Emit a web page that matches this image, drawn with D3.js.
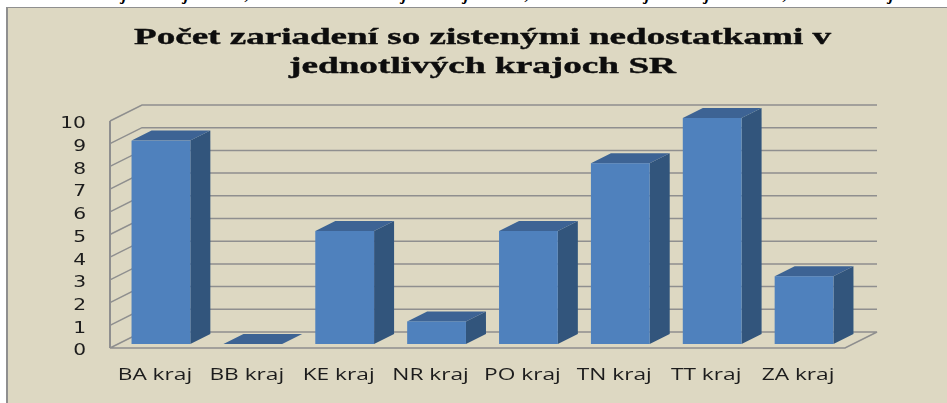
<!DOCTYPE html>
<html>
<head>
<meta charset="utf-8">
<script src="https://cdnjs.cloudflare.com/ajax/libs/d3/7.8.5/d3.min.js"></script>
<style>
    html, body { margin: 0; padding: 0; background: #fff; }
    svg { display: block; }
</style>
</head>
<body>
<svg id="chart" width="947" height="403"></svg>
<script>
const categories = ['BA kraj', 'BB kraj', 'KE kraj', 'NR kraj', 'PO kraj', 'TN kraj', 'TT kraj', 'ZA kraj'];
const values = [9, 0, 5, 1, 5, 8, 10, 3];
const yTicks = [0, 1, 2, 3, 4, 5, 6, 7, 8, 9, 10];
const titleLines = ['Počet zariadení so zistenými nedostatkami v', 'jednotlivých krajoch SR'];
// bottoms of the line of text cut off above the chart
const cutText = ['j', 'j', ',', 'j', 'j', ',', 'j', 'j', ',', 'j'];
const cutTextX = [122, 184, 245, 402, 464, 525, 645, 705, 783, 889];

const svg = d3.select('#chart');

// frame
svg.append('rect').attr('x', 7).attr('y', 7.5).attr('width', 945).attr('height', 400)
    .attr('fill', '#ddd8c2').attr('stroke', '#8f8f8f').attr('stroke-width', 1);
svg.append('line').attr('x1', 7).attr('x2', 7).attr('y1', 7).attr('y2', 403)
    .attr('stroke', '#8f8f8f').attr('stroke-width', 2);

const soft = svg.append('defs').append('filter').attr('id', 'soft');
soft.append('feGaussianBlur').attr('stdDeviation', 0.4);

svg.selectAll('.cut')
    .data(cutText)
    .enter()
    .append('text')
    .attr('class', 'cut')
    .attr('x', (d, i) => cutTextX[i])
    .attr('y', -0.5)
    .attr('font-family', 'Liberation Serif')
    .attr('font-style', 'italic')
    .attr('font-weight', 'bold')
    .attr('font-size', 17)
    .attr('fill', '#000')
    .text(d => d);

const titleWidths = [697, 387];
const titleStart = [134, 289];
const titleBase = [44, 73];
svg.selectAll('.title')
    .data(titleLines)
    .enter()
    .append('text')
    .attr('class', 'title')
    .attr('x', (d, i) => titleStart[i])
    .attr('y', (d, i) => titleBase[i])
    .attr('textLength', (d, i) => titleWidths[i])
    .attr('lengthAdjust', 'spacingAndGlyphs')
    .attr('font-family', 'Liberation Serif')
    .attr('font-weight', 'bold')
    .attr('font-size', 24)
    .attr('fill', '#0c0c0c')
    .attr('stroke', '#0c0c0c')
    .attr('stroke-width', 0.4)
    .attr('filter', 'url(#soft)')
    .text(d => d);

const floorLeft = 110;
const floorRight = 845;
const wallDx = 32;
const wallDy = 16;
const barDx = 20;
const barDy = 10;

const x = d3.scaleBand()
    .domain(categories)
    .range([floorLeft, floorRight])
    .paddingInner(0.36)
    .paddingOuter(0.18);

const y = d3.scaleLinear().domain([0, 10]).range([348, 121]);
const barY = d3.scaleLinear().domain([0, 10]).range([344, 118]);

const gridColor = '#8f8f8f';
const walls = svg.append('g').attr('fill', 'none').attr('stroke', gridColor)
    .attr('stroke-width', 1.5).attr('filter', 'url(#soft)');

yTicks.forEach(function (t) {
    if (t == 0) return;
    walls.append('polyline')
        .attr('points', [
            [floorLeft, y(t)],
            [floorLeft + wallDx, y(t) - wallDy],
            [floorRight + wallDx, y(t) - wallDy]
        ].join(' '));
});

// floor
walls.append('polygon')
    .attr('points', [
        [floorLeft, y(0)],
        [floorRight, y(0)],
        [floorRight + wallDx, y(0) - wallDy],
        [floorLeft + wallDx, y(0) - wallDy]
    ].join(' '));

walls.append('line')
    .attr('x1', floorLeft).attr('x2', floorLeft)
    .attr('y1', y(10)).attr('y2', y(0))
    .attr('stroke-width', 2);

const barShift = 5;
const bars = svg.selectAll('.bar')
    .data(categories.map((c, i) => ({ category: c, value: values[i] })))
    .enter()
    .append('g')
    .attr('class', 'bar')
    .attr('filter', 'url(#soft)');

// side
bars.filter(d => d.value > 0).append('polygon')
    .attr('fill', '#31547c')
    .attr('points', function (d) {
        const r = x(d.category) + barShift + x.bandwidth();
        return [[r, barY(d.value)], [r + barDx, barY(d.value) - barDy], [r + barDx, barY(0) - barDy], [r, barY(0)]].join(' ');
    });

// top
bars.append('polygon')
    .attr('fill', '#3c6494')
    .attr('points', function (d) {
        const l = x(d.category) + barShift;
        const r = l + x.bandwidth();
        const t = barY(d.value);
        return [[l, t], [r, t], [r + barDx, t - barDy], [l + barDx, t - barDy]].join(' ');
    });

// front
bars.filter(d => d.value > 0).append('rect')
    .attr('fill', '#4f81bd')
    .attr('x', d => x(d.category) + barShift)
    .attr('y', d => barY(d.value))
    .attr('width', x.bandwidth())
    .attr('height', d => barY(0) - barY(d.value));

// axes
const yStretch = 1.35;
const yAxisG = svg.append('g')
    .attr('transform', 'translate(86,2)')
    .call(d3.axisLeft(y).tickValues(yTicks).tickSize(0).tickPadding(0));
yAxisG.select('.domain').remove();
yAxisG.selectAll('text')
    .attr('x', 0)
    .attr('transform', `scale(${yStretch},1)`)
    .attr('font-family', 'DejaVu Sans')
    .attr('font-size', 15)
    .attr('fill', '#1c1c1c')
    .attr('filter', 'url(#soft)');

const xStretch = 1.42;
const xAxisG = svg.append('g')
    .attr('transform', 'translate(-1,369)')
    .call(d3.axisBottom(x).tickSize(0).tickPadding(0));
xAxisG.select('.domain').remove();
xAxisG.selectAll('.tick text')
    .attr('y', 0)
    .attr('dy', '0.71em')
    .attr('transform', `scale(${xStretch},1)`)
    .attr('font-family', 'Open Sans')
    .attr('font-size', 16)
    .attr('fill', '#1c1c1c')
    .attr('filter', 'url(#soft)');
</script>
</body>
</html>
